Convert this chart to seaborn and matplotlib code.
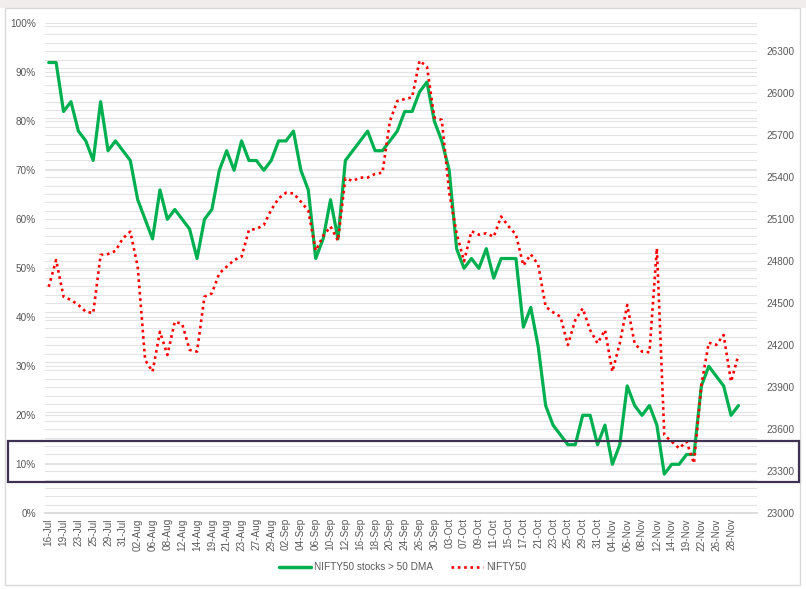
import numpy as np
import pandas as pd
import matplotlib
matplotlib.use("Agg")
import matplotlib.pyplot as plt
import matplotlib.transforms as mtransforms
from matplotlib.lines import Line2D
from matplotlib.patches import Rectangle
from matplotlib.ticker import FuncFormatter
import seaborn as sns

# trading days shown on the category axis
dates = [
    "16-Jul", "18-Jul", "19-Jul", "22-Jul", "23-Jul", "24-Jul", "25-Jul", "26-Jul",
    "29-Jul", "30-Jul", "31-Jul", "01-Aug", "02-Aug", "05-Aug", "06-Aug", "07-Aug",
    "08-Aug", "09-Aug", "12-Aug", "13-Aug", "14-Aug", "16-Aug", "19-Aug", "20-Aug",
    "21-Aug", "22-Aug", "23-Aug", "26-Aug", "27-Aug", "28-Aug", "29-Aug", "30-Aug",
    "02-Sep", "03-Sep", "04-Sep", "05-Sep", "06-Sep", "09-Sep", "10-Sep", "11-Sep",
    "12-Sep", "13-Sep", "16-Sep", "17-Sep", "18-Sep", "19-Sep", "20-Sep", "23-Sep",
    "24-Sep", "25-Sep", "26-Sep", "27-Sep", "30-Sep", "01-Oct", "03-Oct", "04-Oct",
    "07-Oct", "08-Oct", "09-Oct", "10-Oct", "11-Oct", "14-Oct", "15-Oct", "16-Oct",
    "17-Oct", "18-Oct", "21-Oct", "22-Oct", "23-Oct", "24-Oct", "25-Oct", "28-Oct",
    "29-Oct", "30-Oct", "31-Oct", "01-Nov", "04-Nov", "05-Nov", "06-Nov", "07-Nov",
    "08-Nov", "11-Nov", "12-Nov", "13-Nov", "14-Nov", "18-Nov", "19-Nov", "21-Nov",
    "22-Nov", "25-Nov", "26-Nov", "27-Nov", "28-Nov", "29-Nov",
]

# % of NIFTY50 stocks above their 50 DMA
pct_above_50dma = [
    92, 92, 82, 84, 78, 76, 72, 84, 74, 76, 74, 72,
    64, 60, 56, 66, 60, 62, 60, 58, 52, 60, 62, 70,
    74, 70, 76, 72, 72, 70, 72, 76, 76, 78, 70, 66,
    52, 56, 64, 56, 72, 74, 76, 78, 74, 74, 76, 78,
    82, 82, 86, 88, 80, 76, 70, 54, 50, 52, 50, 54,
    48, 52, 52, 52, 38, 42, 34, 22, 18, 16, 14, 14,
    20, 20, 14, 18, 10, 14, 26, 22, 20, 22, 18, 8,
    10, 10, 12, 12, 26, 30, 28, 26, 20, 22,
]

# NIFTY50 close
nifty50 = [
    24618, 24809, 24547, 24524, 24488, 24440, 24430, 24845, 24852, 24874, 24964, 25012,
    24762, 24095, 24012, 24297, 24131, 24369, 24352, 24167, 24155, 24547, 24571, 24714,
    24762, 24809, 24833, 25024, 25031, 25059, 25167, 25250, 25290, 25285, 25226, 25162,
    24876, 24981, 25048, 24948, 25393, 25374, 25398, 25398, 25424, 25433, 25800, 25945,
    25959, 25971, 26233, 26190, 25826, 25810, 25290, 25000, 24800, 25015, 24990, 25000,
    24975, 25120, 25050, 24990, 24770, 24850, 24775, 24476, 24436, 24404, 24202, 24381,
    24464, 24309, 24214, 24309, 24012, 24214, 24488, 24214, 24155, 24150, 24893, 23559,
    23512, 23464, 23512, 23357, 23917, 24219, 24202, 24274, 23940, 24131,
]

series_labels = ["NIFTY50 stocks > 50 DMA", "NIFTY50"]
left_ticks = list(range(0, 101, 10))
right_ticks = list(range(23000, 26301, 300))
right_limits = (23000, 26500)
highlight_band = (6.4, 14.8)  # % range boxed in the original

GREEN = "#00B050"
RED = "#FF0000"
TXT = "#595959"
GRID = "#E3E3E3"
DOTS = (0, (1, 1.4))

df = pd.DataFrame({
    "idx": np.arange(len(dates)),
    "date": dates,
    "pct": pct_above_50dma,
    "nifty": nifty50,
})

sns.set_theme(style="white")
plt.rcParams["font.family"] = ["Liberation Sans", "DejaVu Sans"]

W, H = 806, 589
fig = plt.figure(figsize=(W / 100, H / 100), dpi=100)
fig.patch.set_facecolor("white")

ax = fig.add_axes([45 / W, 1 - 513.3 / H, 712 / W, 490 / H])
ax.patch.set_visible(False)

# grid: 10% steps plus the fine lines of the right axis (every 60 pts)
minor_step = 60 / (right_limits[1] - right_limits[0]) * 100
ax.set_yticks(left_ticks)
ax.set_yticks(np.arange(0, 100.001, minor_step), minor=True)
ax.grid(True, which="both", axis="y", color=GRID, lw=0.8)
ax.set_axisbelow(True)

sns.lineplot(data=df, x="idx", y="pct", ax=ax, color=GREEN, lw=2.3, legend=False)
ax.set_ylim(0, 100)
ax.set_xlim(-0.5, len(dates) + 1.5)
ax.yaxis.set_major_formatter(FuncFormatter(lambda v, p: f"{v:.0f}%"))
ax.set_xticks(df["idx"][::2])
ax.set_xticklabels(df["date"][::2], rotation=90)
ax.set_xlabel("")
ax.set_ylabel("")
ax.tick_params(axis="y", which="both", length=0, labelsize=7.2, colors=TXT, pad=6.5)
ax.tick_params(axis="x", length=0, labelsize=7.2, colors=TXT, pad=3.5)
for s in ["top", "left", "right"]:
    ax.spines[s].set_visible(False)
ax.spines["bottom"].set_color("#D9D9D9")

ax2 = ax.twinx()
sns.lineplot(data=df, x="idx", y="nifty", ax=ax2, color=RED, lw=1.9,
             linestyle=DOTS, legend=False)
ax2.set_ylim(*right_limits)
ax2.set_yticks(right_ticks)
ax2.set_ylabel("")
ax2.tick_params(axis="y", length=0, labelsize=7.2, colors=TXT, pad=6.5)
for s in ax2.spines.values():
    s.set_visible(False)

# chart frame and top strip
fig.add_artist(Rectangle((0, 1 - 8 / H), 1, 8 / H, transform=fig.transFigure,
                         facecolor="#F2EDED", edgecolor="none"))
fig.add_artist(Rectangle((5 / W, 1 - 585 / H), 795 / W, 577 / H, transform=fig.transFigure,
                         fill=False, edgecolor="#D9D9D9", lw=1))

# boxed band across the chart
trans = mtransforms.blended_transform_factory(fig.transFigure, ax.transData)
band = Rectangle((8 / W, highlight_band[0]), 791 / W, highlight_band[1] - highlight_band[0],
                 transform=trans, fill=False, edgecolor="#3F3151", lw=1.6, clip_on=False)
fig.add_artist(band)

handles = [Line2D([], [], color=GREEN, lw=2.5),
           Line2D([], [], color=RED, lw=1.9, ls=DOTS)]
fig.legend(handles, series_labels, loc="center", bbox_to_anchor=(0.5, 1 - 567 / H),
           ncol=2, frameon=False, fontsize=7.2, handlelength=3.2, handletextpad=0.3,
           columnspacing=1.8, labelcolor=TXT)

fig.savefig("out.png", dpi=100)
